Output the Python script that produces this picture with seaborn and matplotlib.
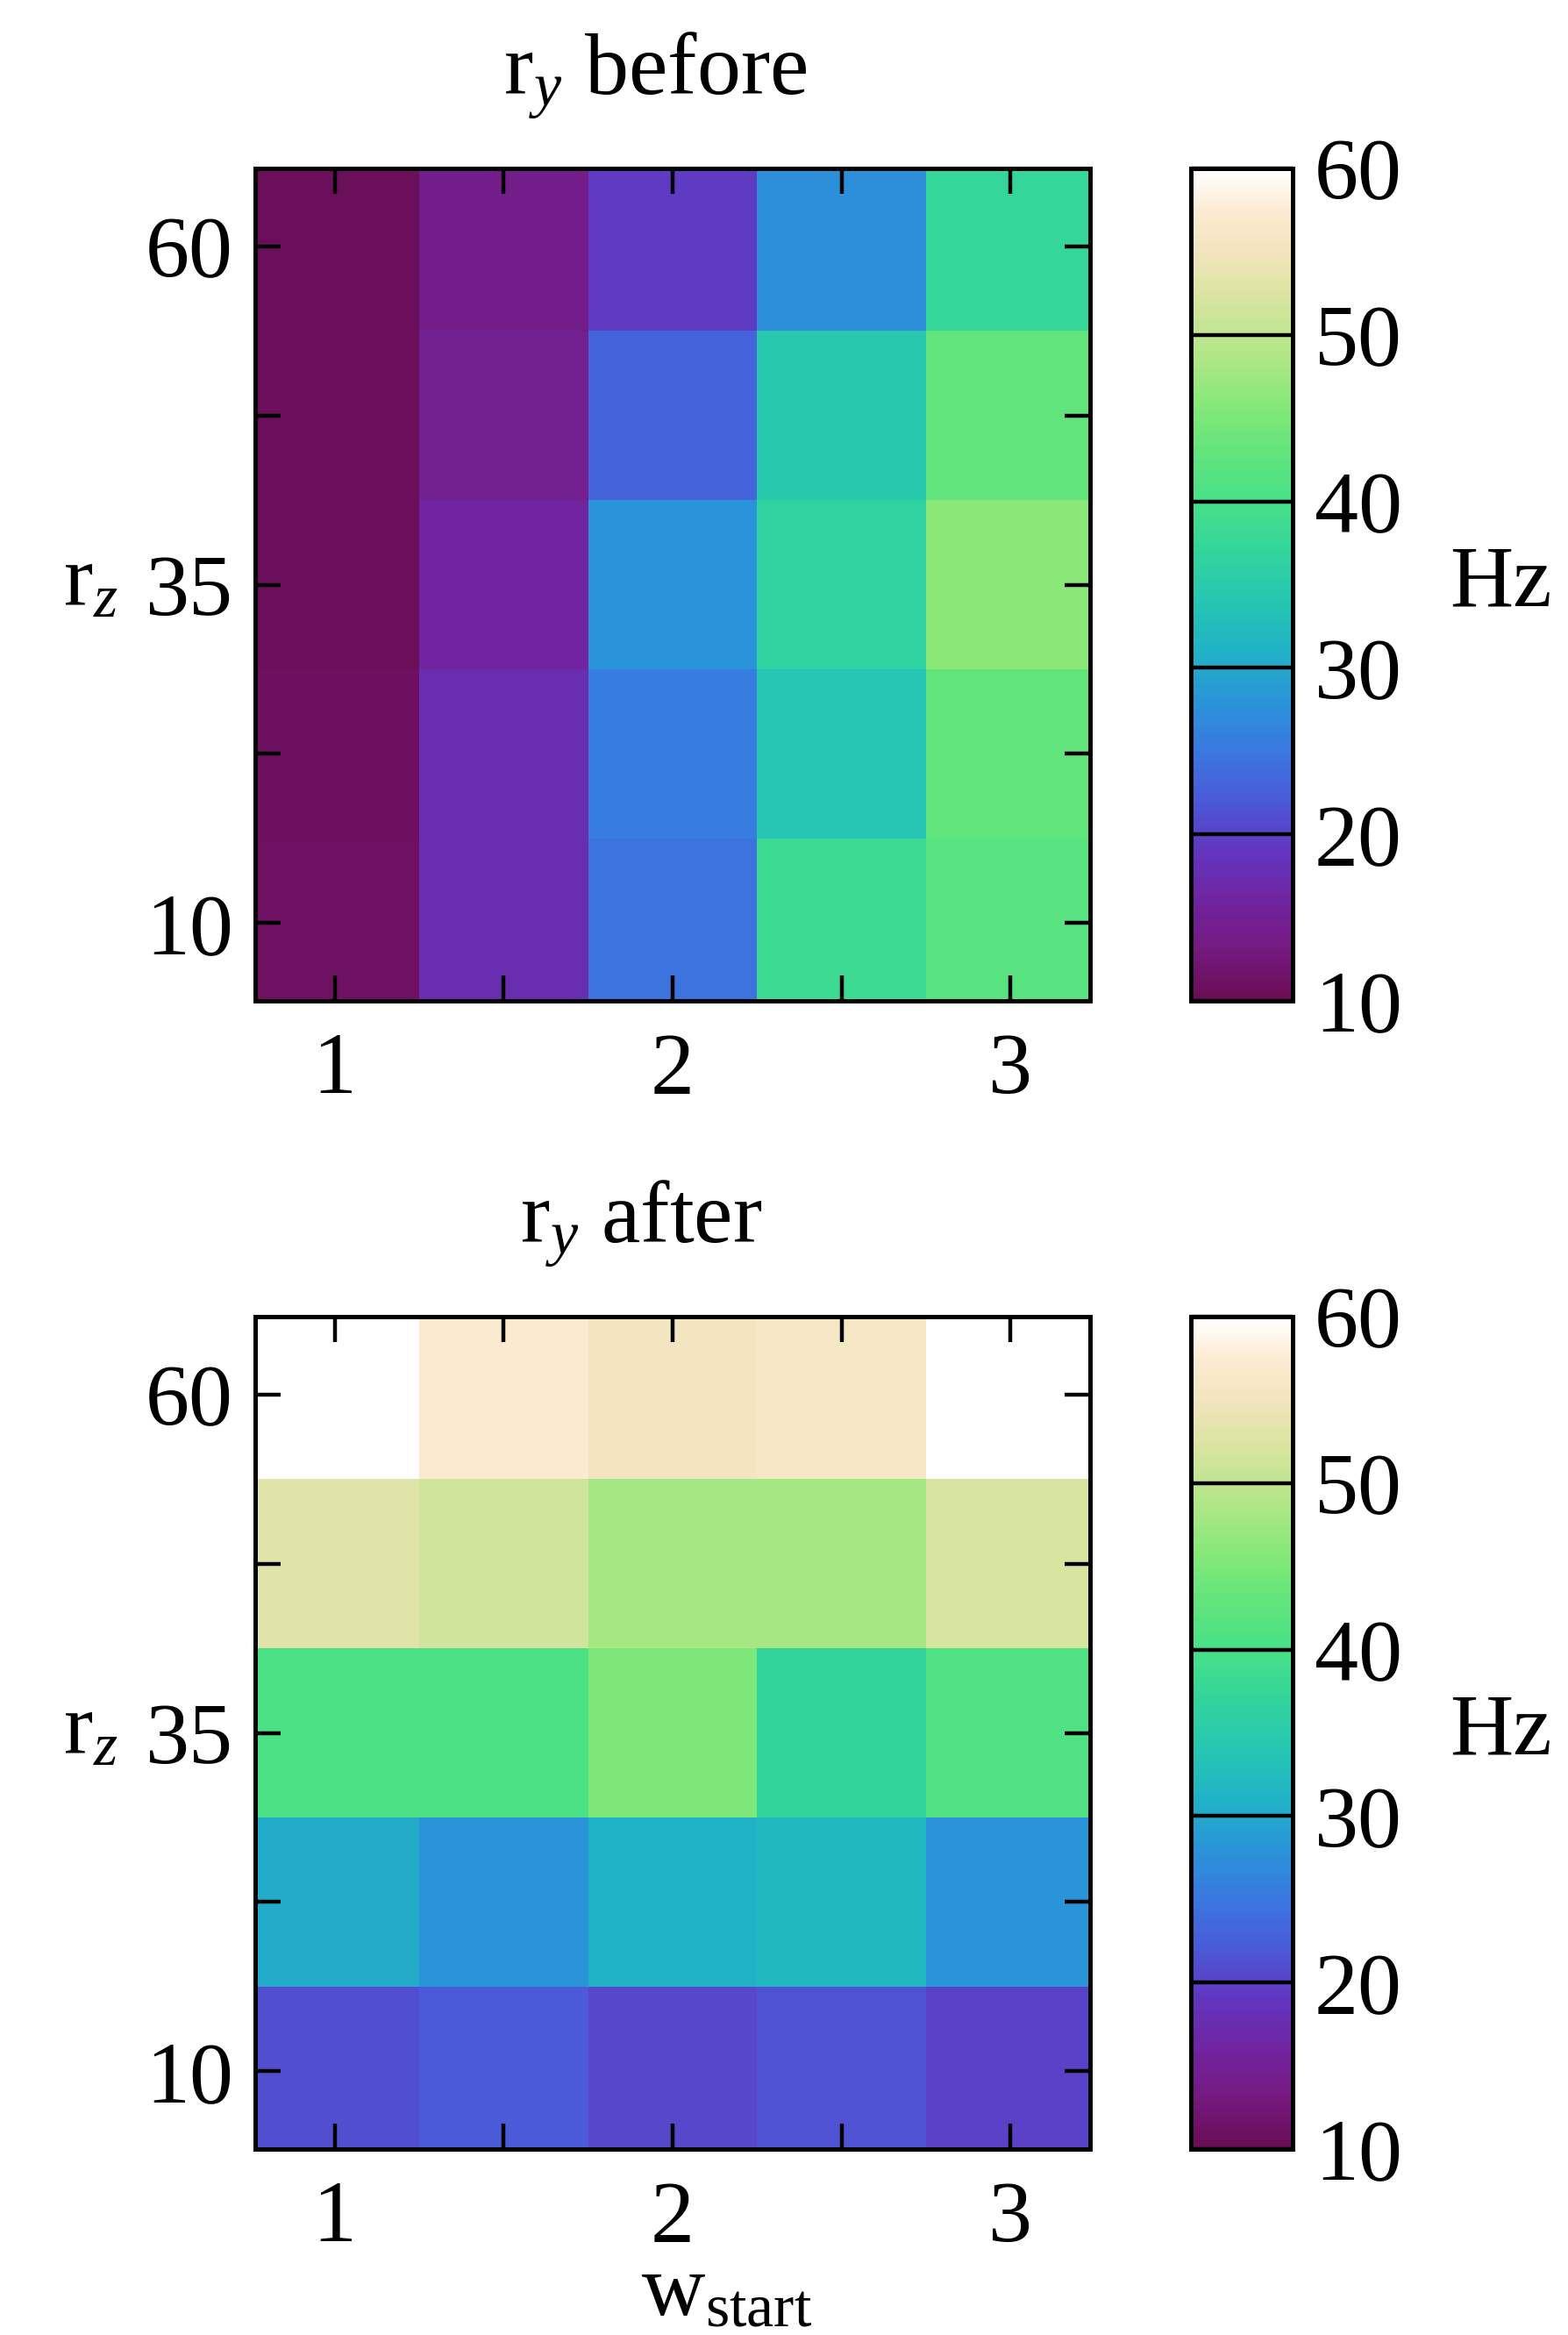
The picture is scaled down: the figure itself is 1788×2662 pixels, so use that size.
import numpy as np
import pandas as pd
import matplotlib
matplotlib.use("Agg")
import matplotlib.pyplot as plt
import seaborn as sns
from matplotlib.colors import LinearSegmentedColormap

# ---------------- data ----------------
w_start = [1.0, 1.5, 2.0, 2.5, 3.0]
r_z = [60.0, 47.5, 35.0, 22.5, 10.0]          # rows, top to bottom

ry_before = [
    [10.5, 14.0, 19.5, 27.5, 37.5],
    [10.5, 14.5, 23.0, 34.5, 43.0],
    [10.5, 16.0, 28.0, 36.5, 46.0],
    [10.8, 17.5, 25.5, 34.0, 43.0],
    [11.0, 17.5, 24.5, 38.5, 42.0],
]
ry_after = [
    [60.0, 57.0, 55.5, 56.0, 60.0],
    [53.0, 51.5, 48.0, 48.0, 52.0],
    [40.5, 40.5, 45.0, 37.0, 41.0],
    [30.5, 28.0, 31.0, 32.0, 28.0],
    [21.0, 22.0, 20.5, 21.5, 20.0],
]
titles = ["r$_y$ before", "r$_y$ after"]
x_major = [1, 2, 3]
y_major = [60, 35, 10]
cbar_ticks = [10, 20, 30, 40, 50, 60]
vmin, vmax = 10, 60

# colormap nodes (value, colour)
cmap_vals = [10, 13, 16, 19, 22, 25, 28, 31, 34, 37, 40, 43, 46, 49, 52, 55, 57.5, 60]
cmap_cols = ["#6b0d55", "#741a80", "#7024a0", "#6236c0", "#4a5ad8", "#3a78e0",
             "#2a94d8", "#20b2c6", "#26c6b2", "#32d49c", "#48e088", "#62e47c",
             "#88e878", "#b4e688", "#d6e49e", "#f2e4bc", "#fcebd3", "#ffffff"]
cmap = LinearSegmentedColormap.from_list(
    "custom", [((v - vmin) / (vmax - vmin), c) for v, c in zip(cmap_vals, cmap_cols)])

# ---------------- style ----------------
sns.set_theme(style="ticks")
plt.rcParams["font.family"] = ["Liberation Serif", "DejaVu Serif"]
plt.rcParams["mathtext.fontset"] = "custom"
plt.rcParams["mathtext.rm"] = "Liberation Serif"
plt.rcParams["mathtext.it"] = "Liberation Serif:italic"
plt.rcParams["axes.axisbelow"] = False

DPI = 200
W, H = 1788, 2662
fig = plt.figure(figsize=(W / DPI, H / DPI), dpi=DPI)

FS = 36
LW = 1.8
TL = 10.4

def frac(px_l, px_t, px_r, px_b):
    return [px_l / W, 1 - px_b / H, (px_r - px_l) / W, (px_b - px_t) / H]

panels = [(192, 1141), (1501, 2450)]
title_x = [0.479, 0.462]
datas = [ry_before, ry_after]

for k, ((top, bot), data) in enumerate(zip(panels, datas)):
    ax = fig.add_axes(frac(291, top, 1243, bot))
    cax = fig.add_axes(frac(1358, top, 1474, bot))
    df = pd.DataFrame(data, index=r_z, columns=w_start)
    sns.heatmap(df, ax=ax, cmap=cmap, vmin=vmin, vmax=vmax, cbar_ax=cax,
                xticklabels=False, yticklabels=False)
    ax.set_axisbelow(False)
    cax.set_axisbelow(False)

    # axis ticks (heatmap index coordinates = cell centre at i+0.5)
    xpos = np.arange(len(w_start)) + 0.5
    ypos = np.arange(len(r_z)) + 0.5
    ax.set_xticks([p for p, v in zip(xpos, w_start) if v in x_major])
    ax.set_xticklabels([f"{v:g}" for v in w_start if v in x_major])
    ax.set_xticks([p for p, v in zip(xpos, w_start) if v not in x_major], minor=True)
    ax.set_yticks([p for p, v in zip(ypos, r_z) if v in y_major])
    ax.set_yticklabels([f"{v:g}" for v in r_z if v in y_major], rotation=0)
    ax.set_yticks([p for p, v in zip(ypos, r_z) if v not in y_major], minor=True)
    ax.set_xlim(0.03, 4.97)
    ax.set_ylim(4.96, 0.04)
    ax.xaxis.set_ticks_position("both")
    ax.yaxis.set_ticks_position("both")
    ax.tick_params(which="both", direction="in", top=True, right=True,
                   bottom=True, left=True, labeltop=False, labelright=False,
                   labelbottom=True, labelleft=True,
                   length=TL, width=1.6, color="black",
                   labelsize=FS, labelcolor="black")
    ax.tick_params(axis="x", which="both", pad=13)
    ax.tick_params(axis="y", which="both", pad=9)
    for sp in ax.spines.values():
        sp.set_visible(True)
        sp.set_linewidth(LW)
        sp.set_color("black")

    ax.set_title(titles[k], fontsize=FS, pad=30, color="black", x=title_x[k])
    ax.set_ylabel("r$_z$", fontsize=FS, rotation=0, color="black", ha="center", va="center")
    ax.yaxis.set_label_coords(-0.197, 0.5)
    if k == 1:
        ax.set_xlabel(r"w$_{\rm start}$", fontsize=FS, color="black", va="top")
        ax.xaxis.set_label_coords(0.565, -0.127)
    else:
        ax.set_xlabel("")

    # colorbar
    cb = ax.collections[0].colorbar
    cb.outline.set_linewidth(LW)
    cb.outline.set_edgecolor("black")
    cb.outline.set_zorder(5)
    cb.set_ticks(cbar_ticks)
    cb.set_ticklabels([f"{t}" for t in cbar_ticks])
    cbw_pt = 116 / DPI * 72
    cax.yaxis.set_ticks_position("right")
    cax.tick_params(direction="in", length=cbw_pt, width=1.6, color="black",
                    labelsize=FS, pad=9, labelcolor="black", right=True, left=False)
    cax.minorticks_off()
    cax.set_ylabel("Hz", fontsize=FS, rotation=0, ha="center", va="center", color="black")
    cax.yaxis.set_label_coords(3.05, 0.5)

fig.savefig("out.png", dpi=DPI)
